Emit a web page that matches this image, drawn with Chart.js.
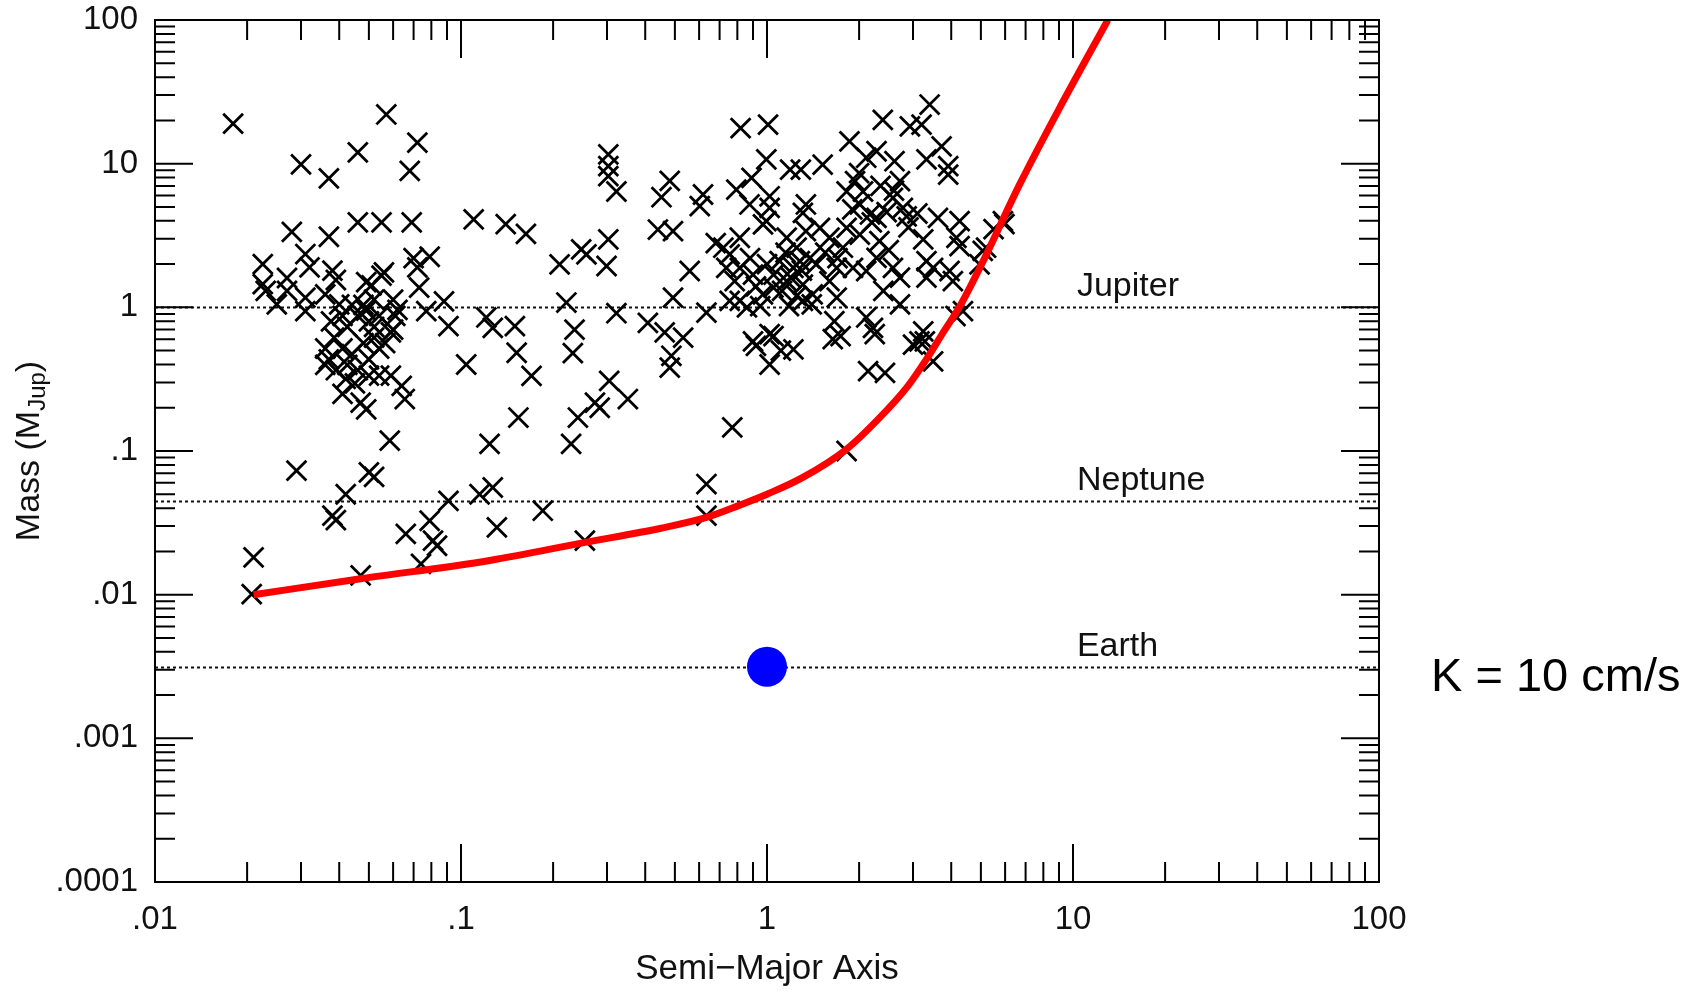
<!DOCTYPE html>
<html>
<head>
<meta charset="utf-8">
<title>Mass vs Semi-Major Axis</title>
<script src="https://cdn.jsdelivr.net/npm/chart.js@4.4.1/dist/chart.umd.min.js"></script>
<style>
  html, body { margin: 0; padding: 0; background: #fff; }
  #wrap { position: relative; width: 1703px; height: 992px; }
</style>
</head>
<body>
<div id="wrap"><canvas id="chart"></canvas></div>
<script>
// known planets, [semi-major axis (AU), mass (M_Jup)]
const innerGiants = [
  [0.018, 19], [0.030, 9.9], [0.037, 7.9], [0.046, 12], [0.057, 22], [0.072, 14], [0.068, 8.9],
  [0.028, 3.35], [0.037, 3.1], [0.046, 3.9], [0.055, 3.9], [0.069, 3.9], [0.110, 4.1], [0.140, 3.8], [0.163, 3.25],
  [0.0225, 2.0], [0.031, 2.35], [0.032, 1.9], [0.027, 1.6], [0.038, 1.8], [0.039, 1.55], [0.0225, 1.45], [0.023, 1.3],
  [0.025, 1.05], [0.027, 1.3], [0.031, 1.17], [0.031, 0.94], [0.056, 1.75], [0.049, 1.5], [0.036, 1.23], [0.040, 1.05],
  [0.070, 2.2], [0.079, 2.25], [0.072, 1.9], [0.073, 1.37], [0.088, 1.1], [0.091, 0.74], [0.077, 0.94], [0.062, 0.96],
  [0.060, 0.70], [0.121, 0.85], [0.127, 0.72]
]
const hotCluster = [
  [0.037, 0.434], [0.036, 0.517], [0.0385, 0.615], [0.041, 0.517], [0.0425, 0.731], [0.046, 0.871], [0.049, 0.949],
  [0.050, 0.798], [0.052, 0.731], [0.054, 0.871], [0.052, 0.615], [0.048, 0.564], [0.044, 0.473], [0.0425, 0.398],
  [0.039, 0.365], [0.046, 0.365], [0.050, 0.434], [0.054, 0.517], [0.0565, 0.564], [0.059, 0.67], [0.052, 1.13],
  [0.048, 1.04], [0.041, 0.871], [0.0376, 0.798], [0.044, 1.04], [0.036, 0.398], [0.050, 0.335], [0.054, 0.335],
  [0.042, 0.318], [0.045, 0.296], [0.061, 0.871], [0.060, 1.13], [0.059, 0.335], [0.051, 1.42], [0.055, 1.66]
]
const innerLight = [
  [0.104, 0.40], [0.041, 0.25], [0.047, 0.217], [0.049, 0.195], [0.064, 0.284], [0.0655, 0.23], [0.0585, 0.118],
  [0.029, 0.073], [0.050, 0.071], [0.052, 0.066], [0.042, 0.050], [0.038, 0.0355], [0.039, 0.033], [0.021, 0.0182],
  [0.0207, 0.0101], [0.047, 0.0136], [0.066, 0.0265], [0.091, 0.045], [0.079, 0.0327], [0.081, 0.0238],
  [0.0835, 0.0219], [0.074, 0.0164], [0.124, 0.112], [0.115, 0.050], [0.127, 0.0557], [0.131, 0.0294]
]
const midPlanets = [
  [0.303, 11.6], [0.303, 9.6], [0.303, 8.2], [0.322, 6.4], [0.481, 7.6], [0.452, 5.84], [0.618, 6.1], [0.603, 5.06],
  [0.44, 3.48], [0.493, 3.39], [0.303, 2.97], [0.299, 1.94], [0.247, 2.53], [0.257, 2.34], [0.21, 1.99], [0.559, 1.79],
  [0.221, 1.08], [0.493, 1.17], [0.634, 0.92], [0.322, 0.91], [0.408, 0.78], [0.463, 0.67], [0.532, 0.615],
  [0.487, 0.46], [0.481, 0.38], [0.235, 0.70], [0.232, 0.48], [0.150, 0.74], [0.152, 0.483], [0.17, 0.333],
  [0.305, 0.308], [0.351, 0.23], [0.274, 0.217], [0.284, 0.20], [0.241, 0.171], [0.154, 0.171], [0.229, 0.112],
  [0.185, 0.0384], [0.254, 0.0238], [0.634, 0.0589], [0.634, 0.0355], [0.77, 0.146], [0.68, 2.8], [0.72, 2.6]
]
const outerGiants = [
  [0.82, 17.7], [1.008, 18.7], [2.39, 20.2], [2.93, 18.2], [3.2, 18.7], [3.40, 25.8], [1.86, 14.3], [2.28, 12.2],
  [2.11, 11.0], [2.61, 10.4], [3.72, 13.2], [3.32, 10.7], [3.91, 9.6], [3.91, 8.4], [0.995, 10.7], [1.19, 9.1],
  [1.29, 9.1], [1.52, 9.86], [0.89, 7.96], [0.794, 6.6], [1.02, 5.93], [0.877, 5.2], [0.995, 3.98], [1.34, 5.2],
  [1.31, 4.55], [1.94, 7.55], [1.82, 6.4], [2.06, 6.4], [2.01, 5.2], [2.72, 7.55], [2.58, 5.78], [2.78, 4.92],
  [2.17, 4.43], [2.46, 4.6], [2.28, 4.2], [2.86, 4.3], [3.62, 4.2], [4.26, 3.98], [4.16, 3.05], [4.26, 2.67],
  [5.9, 3.98], [5.2, 2.6], [4.95, 1.99], [3.24, 2.97], [3.32, 2.1], [3.49, 1.88], [3.95, 1.79], [3.32, 1.61],
  [4.05, 1.52], [4.37, 0.94], [2.72, 1.05], [2.58, 1.88], [2.72, 1.61], [2.28, 2.21], [2.11, 1.79], [2.33, 2.89],
  [2.01, 3.21], [1.82, 3.57], [1.6, 3.05], [1.49, 3.57], [1.34, 3.39], [1.77, 2.6], [1.91, 1.88], [1.69, 1.88],
  [1.6, 1.52], [1.25, 2.6], [1.22, 1.88], [1.28, 2.1], [1.16, 1.52], [1.31, 1.44], [1.41, 1.23], [1.05, 1.69],
  [1.05, 1.37], [0.97, 1.23], [0.9, 1.69], [0.815, 3.05], [0.755, 2.34], [0.736, 1.88], [0.815, 1.88], [0.784, 1.52],
  [0.755, 1.11], [0.815, 1.11], [0.97, 3.78], [1.02, 4.92], [1.10, 2.1], [1.16, 3.05], [1.31, 1.11], [1.69, 1.17],
  [1.12, 1.3], [1.2, 1.6], [1.3, 1.8], [1.45, 2.0], [1.15, 2.4], [1.38, 2.2], [1.25, 1.2], [0.92, 1.4], [1.0, 2.0],
  [0.88, 2.2], [1.55, 2.4], [1.7, 2.2], [1.4, 1.05], [1.18, 1.02], [0.86, 1.0], [0.95, 1.02], [2.4, 1.3],
  [2.5, 2.5], [2.9, 3.6], [3.1, 4.5], [2.2, 3.9], [1.9, 4.8], [2.6, 6.5], [2.35, 7.0], [2.0, 8.6]
]
const outerLight = [
  [1.66, 0.80], [2.11, 0.85], [2.22, 0.72], [3.24, 0.68], [3.15, 0.58], [1.02, 0.65], [0.9, 0.58], [0.92, 0.54],
  [1.02, 0.40], [1.05, 0.63], [1.22, 0.51], [1.11, 0.50], [1.64, 0.60], [1.74, 0.63], [2.25, 0.65], [2.14, 0.36],
  [2.43, 0.35], [3.0, 0.55], [3.28, 0.58], [3.49, 0.42], [1.82, 0.10], [4.13, 0.87], [5.07, 2.47], [5.5, 3.5],
  [5.97, 3.8]
]

// K = 10 cm/s detection limit
const limitA = [0.021, 0.047, 0.124, 0.254, 0.45, 0.634, 0.815, 1.0, 1.31, 1.82, 2.28, 2.86, 3.40, 3.75, 4.25, 5.0, 6.7, 9.0, 13]
const limitM = [0.0100, 0.0129, 0.0173, 0.0231, 0.029, 0.0345, 0.042, 0.050, 0.0655, 0.103, 0.162, 0.276, 0.471, 0.66, 1.0, 1.95, 7.2, 24, 100]

const earthA = [1]
const earthM = [0.00315]

const refNames = ['Jupiter', 'Neptune', 'Earth']
const refMass = [1, 0.045, 0.00315]
const refLabelA = 10.3

const xTicks = [0.01, 0.1, 1, 10, 100]
const xTickLabels = ['.01', '.1', '1', '10', '100']
const yTicks = [0.0001, 0.001, 0.01, 0.1, 1, 10, 100]
const yTickLabels = ['.0001', '.001', '.01', '.1', '1', '10', '100']

const FONT = '"Liberation Sans", Arial, Helvetica, sans-serif'

const planets = [...innerGiants, ...hotCluster, ...innerLight, ...midPlanets, ...outerGiants, ...outerLight]

// reference lines, inside ticks on all four sides, extra labels
const frame = {
  id: 'frame',
  beforeDatasetsDraw(chart) {
    const {ctx, chartArea: area, scales: {x, y}} = chart
    ctx.save()
    ctx.strokeStyle = '#111'
    ctx.lineWidth = 2
    ctx.setLineDash([3, 3])
    refMass.forEach(m => {
      const py = Math.round(y.getPixelForValue(m)) + 0.5
      ctx.beginPath()
      ctx.moveTo(area.left, py)
      ctx.lineTo(area.right, py)
      ctx.stroke()
    })
    ctx.setLineDash([])
    ctx.fillStyle = '#111'
    ctx.font = '34px ' + FONT
    ctx.textAlign = 'left'
    ctx.textBaseline = 'alphabetic'
    refNames.forEach((name, i) => {
      ctx.fillText(name, x.getPixelForValue(refLabelA), y.getPixelForValue(refMass[i]) - 11)
    })
    ctx.restore()
  },
  afterDatasetsDraw(chart) {
    const {ctx, chartArea: area, scales: {x, y}} = chart
    const major = 38, minor = 20
    ctx.save()
    ctx.strokeStyle = '#000'
    ctx.lineWidth = 2
    ctx.strokeRect(area.left, area.top, area.right - area.left, area.bottom - area.top)
    ctx.beginPath()
    xTicks.forEach((d, i) => {
      const px = x.getPixelForValue(d)
      ctx.moveTo(px, area.bottom); ctx.lineTo(px, area.bottom - major)
      ctx.moveTo(px, area.top); ctx.lineTo(px, area.top + major)
      if (i == xTicks.length - 1) return
      for (let j = 2; j < 10; j++) {
        const p = x.getPixelForValue(d * j)
        ctx.moveTo(p, area.bottom); ctx.lineTo(p, area.bottom - minor)
        ctx.moveTo(p, area.top); ctx.lineTo(p, area.top + minor)
      }
    })
    yTicks.forEach((d, i) => {
      const py = y.getPixelForValue(d)
      ctx.moveTo(area.left, py); ctx.lineTo(area.left + major, py)
      ctx.moveTo(area.right, py); ctx.lineTo(area.right - major, py)
      if (i == yTicks.length - 1) return
      for (let j = 2; j < 10; j++) {
        const p = y.getPixelForValue(d * j)
        ctx.moveTo(area.left, p); ctx.lineTo(area.left + minor, p)
        ctx.moveTo(area.right, p); ctx.lineTo(area.right - minor, p)
      }
    })
    ctx.stroke()
    ctx.restore()
  },
  afterDraw(chart) {
    const {ctx, chartArea: area} = chart
    ctx.save()
    ctx.fillStyle = '#111'
    // y title with subscript
    ctx.translate(30, (area.top + area.bottom) / 2)
    ctx.rotate(-Math.PI / 2)
    const big = '34px ' + FONT, small = '24px ' + FONT
    ctx.font = big
    const w1 = ctx.measureText('Mass (M').width
    const w3 = ctx.measureText(')').width
    ctx.font = small
    const w2 = ctx.measureText('Jup').width
    let sx = -(w1 + w2 + w3) / 2
    ctx.textBaseline = 'middle'
    ctx.textAlign = 'left'
    ctx.font = big
    ctx.fillText('Mass (M', sx, 0)
    ctx.font = small
    ctx.fillText('Jup', sx + w1, 8)
    ctx.font = big
    ctx.fillText(')', sx + w1 + w2, 0)
    ctx.restore()

    ctx.save()
    ctx.fillStyle = '#000'
    ctx.font = '47px ' + FONT
    ctx.textAlign = 'left'
    ctx.textBaseline = 'alphabetic'
    ctx.fillText('K = 10 cm/s', 1431, 691)
    ctx.restore()
  }
}

new Chart(document.getElementById('chart'), {
  type: 'scatter',
  data: {
    datasets: [
      {
        label: 'K = 10 cm/s',
        data: limitA.map((a, i) => ({x: a, y: limitM[i]})),
        showLine: true,
        borderColor: '#ff0000',
        borderWidth: 7,
        pointRadius: 0,
        cubicInterpolationMode: 'monotone'
      },
      {
        label: 'Earth',
        data: earthA.map((a, i) => ({x: a, y: earthM[i]})),
        pointStyle: 'circle',
        pointRadius: 20,
        backgroundColor: '#0000ff',
        borderWidth: 0
      },
      {
        label: 'Planets',
        data: planets.map(p => ({x: p[0], y: p[1]})),
        pointStyle: 'crossRot',
        pointRadius: 14,
        borderColor: '#000',
        borderWidth: 2.8
      }
    ]
  },
  options: {
    responsive: true,
    maintainAspectRatio: false,
    animation: false,
    events: [],
    layout: { padding: { left: 0, right: 324, top: 18, bottom: 0 } },
    plugins: { legend: { display: false }, tooltip: { enabled: false } },
    scales: {
      x: {
        type: 'logarithmic',
        min: 0.01,
        max: 100,
        afterFit: s => { s.height = 110 },
        afterBuildTicks: s => { s.ticks = xTicks.map(v => ({value: v})) },
        grid: { display: false, drawTicks: false },
        border: { display: false },
        ticks: {
          autoSkip: false,
          maxRotation: 0,
          padding: 18,
          color: '#111',
          font: { family: FONT, size: 33, lineHeight: 1.2 },
          callback: (v, i) => xTickLabels[i]
        },
        title: {
          display: true,
          text: 'Semi−Major Axis',
          color: '#111',
          font: { family: FONT, size: 35, lineHeight: 1.2 },
          padding: { top: 0, bottom: 2 }
        }
      },
      y: {
        type: 'logarithmic',
        min: 0.0001,
        max: 100,
        afterFit: s => { s.width = 155 },
        afterBuildTicks: s => { s.ticks = yTicks.map(v => ({value: v})) },
        grid: { display: false, drawTicks: false },
        border: { display: false },
        ticks: {
          autoSkip: false,
          padding: 17,
          color: '#111',
          // tiny line height keeps the top label from pushing the plot area down
          font: { family: FONT, size: 33, lineHeight: 0.01 },
          callback: (v, i) => yTickLabels[i]
        }
      }
    }
  },
  plugins: [frame]
})
</script>
</body>
</html>
